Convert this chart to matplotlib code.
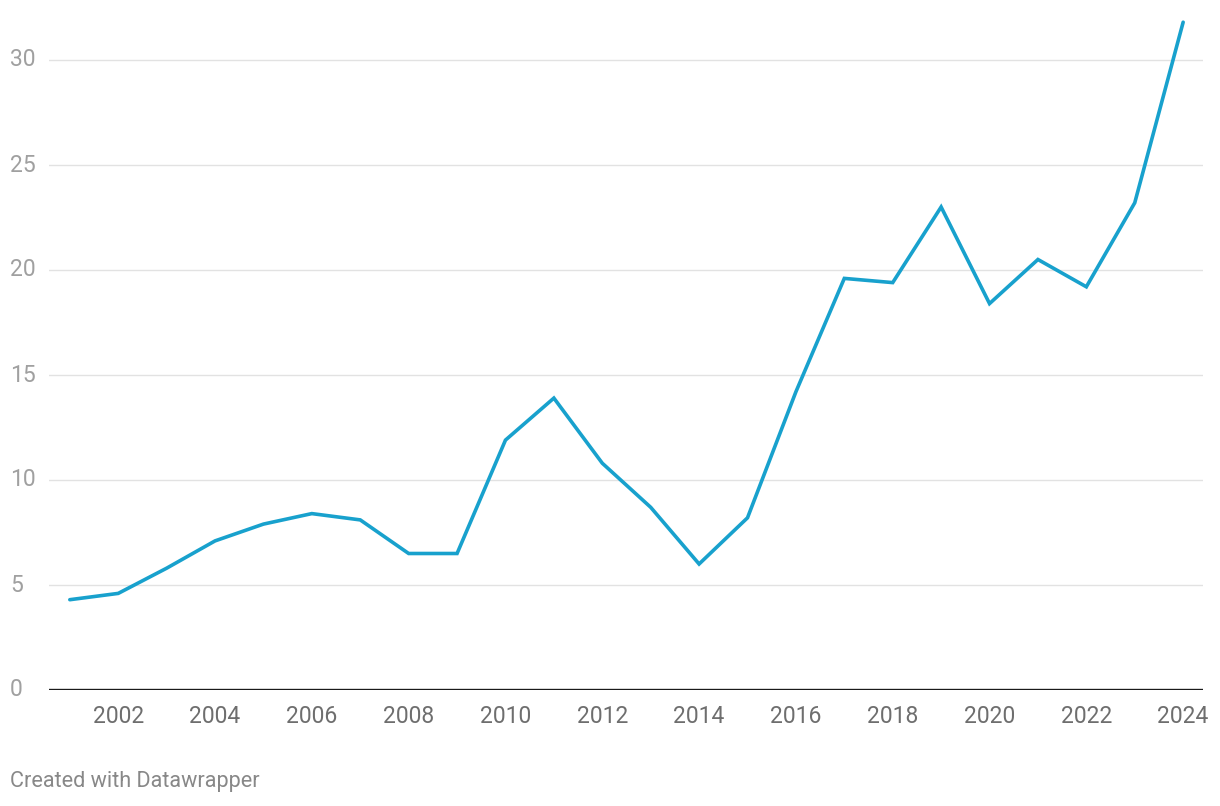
import matplotlib
matplotlib.use("Agg")
import matplotlib.pyplot as plt

years = list(range(2001, 2025))
values = [4.3, 4.6, 5.8, 7.1, 7.9, 8.4, 8.1, 6.5, 6.5, 11.9, 13.9, 10.8, 8.7, 6.0,
          8.2, 14.2, 19.6, 19.4, 23.0, 18.4, 20.5, 19.2, 23.2, 31.8]
y_ticks = [0, 5, 10, 15, 20, 25, 30]
x_ticks = list(range(2002, 2025, 2))

plt.rcParams['font.family'] = ['Roboto', 'DejaVu Sans']

W, H = 1220, 806
fig = plt.figure(figsize=(W / 100, H / 100), dpi=100)
left, right = 49 / W, 1203 / W
bottom, top = (H - 690) / H, (H - 7.5) / H
ax = fig.add_axes([left, bottom, right - left, top - bottom])

ax.set_xlim(2000.57, 2024.41)
ax.set_ylim(0, 32.5)

for t in y_ticks[1:]:
    ax.axhline(t, color='#e2e2e2', lw=1.0, zorder=1)
ax.axhline(0, color='#1a1a1a', lw=1.7, zorder=3)

ax.plot(years, values, color='#18a1cd', lw=2.6, solid_joinstyle='miter',
        solid_capstyle='round', zorder=4, clip_on=False)

for s in ax.spines.values():
    s.set_visible(False)
ax.set_yticks([])
ax.set_xticks(x_ticks)
ax.set_xticklabels([str(x) for x in x_ticks], fontsize=16.5, color='#6e6e6e')
ax.tick_params(axis='x', length=0, pad=11)

for t in y_ticks:
    y_fig = ax.transData.transform((0, t))[1]
    fig.text(10 / W, y_fig / H, str(t), ha='left', va='center', fontsize=16.5,
             color='#a0a0a0')

fig.text(10 / W, (H - 782) / H, 'Created with Datawrapper', ha='left',
         va='center', fontsize=15.6, color='#888888')

fig.savefig('out.png', dpi=100, facecolor='white')
